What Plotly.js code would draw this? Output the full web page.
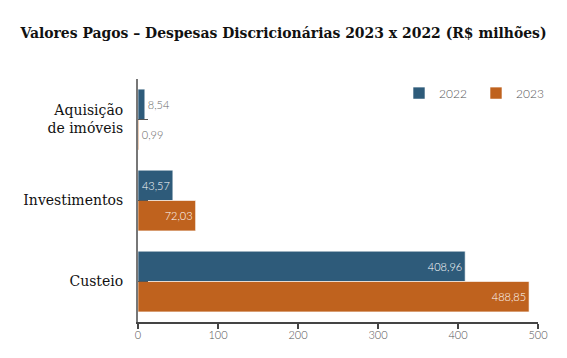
<!DOCTYPE html>
<html><head><meta charset="utf-8">
<script src="https://cdn.plot.ly/plotly-3.0.1.min.js"></script>
<style>html,body{margin:0;padding:0;background:#fff}#chart{width:567px;height:358px}</style>
</head><body><div id="chart"></div>
<script>
const categories = ["Aquisição<br>de imóveis", "Investimentos", "Custeio"];
const values2022 = [8.54, 43.57, 408.96];
const values2023 = [0.99, 72.03, 488.85];
const seriesNames = ["2022", "2023"];
const xTicks = [0, 100, 200, 300, 400, 500];

const colors = ["#2e5b7a", "#bf621e"];
const fmt = v => v.toFixed(2).replace(".", ",");
const labelFont = {family: "Lato", size: 11, weight: 300};

function posFor(vals) { return vals.map(v => v < 20 ? "outside" : "inside"); }

const traces = [values2022, values2023].map((vals, i) => ({
  type: "bar", orientation: "h", name: seriesNames[i],
  y: categories, x: vals,
  marker: {color: colors[i], line: {color: "rgba(255,255,255,0.6)", width: 1}},
  text: vals.map(fmt), textposition: posFor(vals), insidetextanchor: "end",
  textangle: 0, constraintext: "none",
  textfont: labelFont,
  insidetextfont: Object.assign({color: "#ffffff"}, labelFont),
  outsidetextfont: Object.assign({color: "#666666"}, labelFont),
  cliponaxis: false, hoverinfo: "none"
}));

const layout = {
  width: 567, height: 358,
  margin: {l: 138, r: 29, t: 79, b: 36, autoexpand: false},
  paper_bgcolor: "#fff", plot_bgcolor: "#fff",
  title: {text: "<b>Valores Pagos – Despesas Discricionárias 2023 x 2022 (R$ milhões)</b>",
          font: {family: "DejaVu Serif Condensed, DejaVu Serif", size: 15.5, color: "#111"}, x: 0.5, xanchor: "center", y: 0.91, yanchor: "middle"},
  barmode: "group", bargap: 0.25, bargroupgap: 0,
  xaxis: {range: [0, 500], tickvals: xTicks, ticktext: xTicks.map(String), showgrid: false, zeroline: false,
          showline: true, linecolor: "#444", linewidth: 1.5, ticks: "outside", ticklen: 5, tickcolor: "#444", tickwidth: 1.5,
          tickfont: {family: "Lato", size: 11, color: "#555", weight: 300}, ticklabelstandoff: -3, fixedrange: true},
  yaxis: {autorange: "reversed", showgrid: false, zeroline: false, showline: true, linecolor: "#777", linewidth: 2,
          ticks: "inside", ticklen: 10, tickcolor: "#555", tickwidth: 1.5,
          tickfont: {family: "DejaVu Serif", size: 14, color: "#111"}, ticklabelstandoff: 10},
  legend: {orientation: "h", x: 0.6525, xanchor: "left", y: 0.942, yanchor: "middle",
           entrywidth: 32, entrywidthmode: "pixels",
           font: {family: "Lato", size: 12, color: "#555", weight: 300}},
  showlegend: true
};

Plotly.newPlot("chart", traces, layout, {staticPlot: true});
</script></body></html>
